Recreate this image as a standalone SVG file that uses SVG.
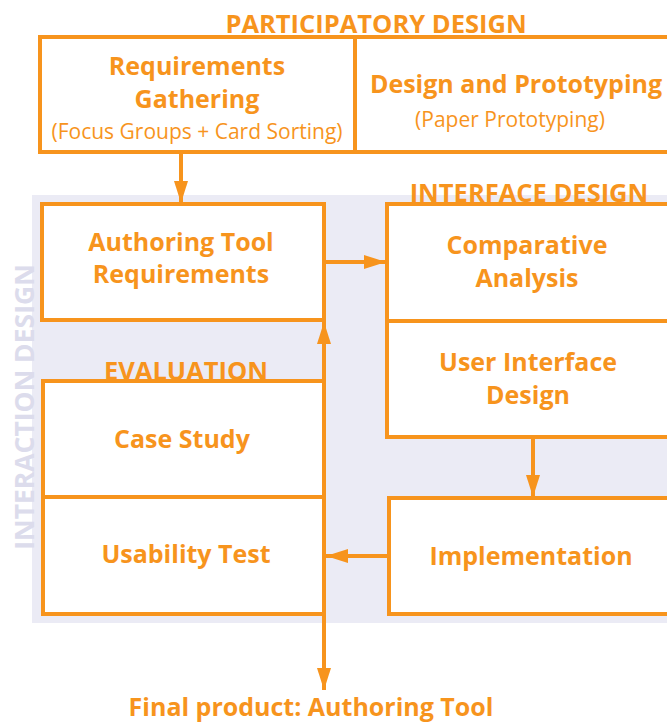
<svg xmlns="http://www.w3.org/2000/svg" width="667" height="724" viewBox="0 0 667 724">
  <defs>
    <marker id="arrow" viewBox="0 0 22 14" refX="22" refY="7" markerWidth="5.5" markerHeight="3.5" markerUnits="strokeWidth" orient="auto">
      <path d="M0,0 L22,7 L0,14 Z" fill="#f7941d"/>
    </marker>
    <style>
      .box { fill: #ffffff; stroke: #f7941d; stroke-width: 4; }
      .sep { stroke: #f7941d; stroke-width: 4; fill: none; }
      .link { stroke: #f7941d; stroke-width: 4; fill: none; marker-end: url(#arrow); }
      .t { font-family: "Open Sans", "Noto Sans", sans-serif; font-weight: 700; fill: #f7941d; text-anchor: middle; }
      .lbl { font-size: 25px; }
      .sub { font-size: 21px; font-weight: 400; }
      .head { font-size: 25.5px; }
      .side { font-family: "Open Sans", "Noto Sans", sans-serif; font-weight: 700; font-size: 26.5px; fill: #dcdcec; text-anchor: middle; }
    </style>
  </defs>

  <rect x="0" y="0" width="667" height="724" fill="#ffffff"/>

  <!-- interaction design area -->
  <rect x="32" y="195" width="640" height="428" fill="#ebebf5"/>
  <text class="side" transform="translate(34,407) rotate(-90)">INTERACTION DESIGN</text>

  <!-- participatory design -->
  <g id="participatory">
    <rect class="box" x="40" y="37" width="640" height="115"/>
    <line class="sep" x1="355" y1="37" x2="355" y2="152"/>
    <text class="t head" x="376" y="33">PARTICIPATORY DESIGN</text>
  </g>
  <g id="requirements-gathering">
    <text class="t lbl" x="197" y="75">Requirements</text>
    <text class="t lbl" x="197" y="108">Gathering</text>
    <text class="t sub" x="197" y="139">(Focus Groups + Card Sorting)</text>
  </g>
  <g id="design-prototyping">
    <text class="t lbl" x="516" y="93">Design and Prototyping</text>
    <text class="t sub" x="510" y="127">(Paper Prototyping)</text>
  </g>

  <!-- authoring tool requirements -->
  <g id="authoring-requirements">
    <rect class="box" x="42" y="204" width="282" height="116"/>
    <text class="t lbl" x="181" y="251">Authoring Tool</text>
    <text class="t lbl" x="181" y="283">Requirements</text>
  </g>

  <!-- interface design -->
  <g id="interface">
    <rect class="box" x="387" y="204" width="293" height="233"/>
    <line class="sep" x1="387" y1="321" x2="680" y2="321"/>
    <text class="t head" x="529" y="202">INTERFACE DESIGN</text>
  </g>
  <g id="comparative-analysis">
    <text class="t lbl" x="527" y="254">Comparative</text>
    <text class="t lbl" x="527" y="287">Analysis</text>
  </g>
  <g id="ui-design">
    <text class="t lbl" x="528" y="371">User Interface</text>
    <text class="t lbl" x="528" y="404">Design</text>
  </g>

  <!-- implementation -->
  <g id="implementation">
    <rect class="box" x="389" y="498" width="291" height="116"/>
    <text class="t lbl" x="531" y="565">Implementation</text>
  </g>

  <!-- evaluation -->
  <g id="evaluation">
    <rect class="box" x="43" y="381" width="281" height="233"/>
    <line class="sep" x1="43" y1="497" x2="324" y2="497"/>
    <text class="t head" x="186" y="380">EVALUATION</text>
  </g>
  <g id="case-study">
    <text class="t lbl" x="182" y="448">Case Study</text>
  </g>
  <g id="usability-test">
    <text class="t lbl" x="186" y="563">Usability Test</text>
  </g>

  <!-- final product -->
  <g id="final-product">
    <text class="t lbl" x="311" y="716">Final product: Authoring Tool</text>
  </g>

  <!-- connectors -->
  <g id="connectors">
    <line class="link" x1="181" y1="152" x2="181" y2="203"/>
    <line class="link" x1="324" y1="262" x2="386" y2="262"/>
    <line class="link" x1="533" y1="437" x2="533" y2="497"/>
    <line class="link" x1="389" y1="556" x2="326" y2="556"/>
    <line class="link" x1="324" y1="614" x2="324" y2="322"/>
    <line class="link" x1="324" y1="614" x2="324" y2="690"/>
  </g>
</svg>
